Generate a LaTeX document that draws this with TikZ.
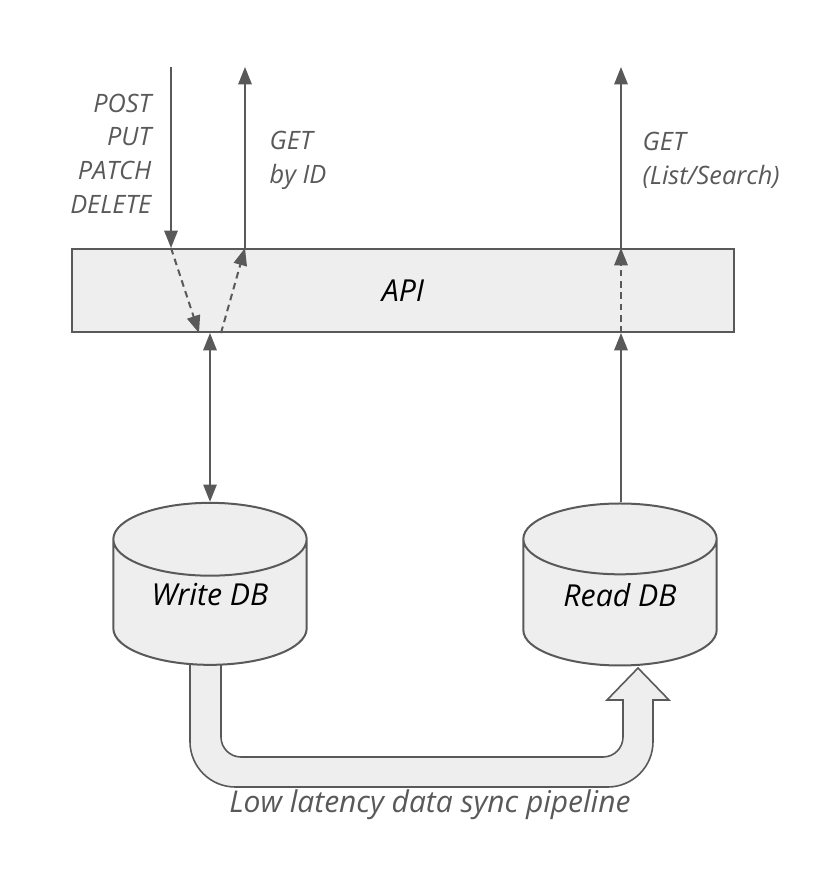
\documentclass[tikz,border=0pt]{standalone}
\usepackage{fontspec}
\setmainfont{Open Sans}
\usetikzlibrary{arrows.meta, positioning, shapes.geometric, calc}

\definecolor{linegray}{HTML}{595959}
\definecolor{boxfill}{HTML}{EEEEEE}

\begin{document}
\begin{tikzpicture}[
  x=0.75pt, y=-0.75pt,
  box/.style={draw=linegray, line width=1.5pt, fill=boxfill, minimum width=496.5pt,
              minimum height=62.25pt, font=\fontsize{22.7}{26}\selectfont\itshape},
  db/.style={cylinder, shape border rotate=90, aspect=0.58, draw=linegray,
             line width=1.5pt, fill=boxfill, minimum width=145pt, minimum height=121.5pt,
             text depth=20pt, font=\fontsize{22.7}{26}\selectfont\itshape},
  lbl/.style={text=linegray, font=\fontsize{19}{25.3}\selectfont\itshape},
  arr/.style={-{Triangle[length=13pt, width=10pt]}, draw=linegray, line width=1.5pt},
  dasharr/.style={arr, dash pattern=on 5pt off 3.5pt},
  pipe/.style={draw=linegray, line width=1.2pt, fill=boxfill}
]
  \useasboundingbox (0,0) rectangle (822,874);

  % sync pipeline, drawn under the databases
  \draw[pipe] (190,640) [rounded corners=34pt] -- (190,787) -- (653,787)
    [sharp corners] -- (653,700) -- (669,700) -- (638,668) -- (607,700) -- (623,700)
    [rounded corners=15pt] -- (623,757) -- (221,757)
    [sharp corners] -- (221,640) -- cycle;
  \node[lbl, font=\fontsize{22.5}{26}\selectfont\itshape] (pipelbl) at (430,805)
    {Low latency data sync pipeline};

  \node[box] (api) at (403,290.5) {API};
  \node[db] (wdb) at (210,608) {Write DB};
  \node[db] (rdb) at (620,608) {Read DB};

  \coordinate (postin) at (171,67);
  \coordinate (getid)  at (245,67);
  \coordinate (getls)  at (621,67);

  \node[lbl, align=right, anchor=east] (postlbl) at (156,153.5)
    {POST\\PUT\\PATCH\\DELETE};
  \node[lbl, align=left, anchor=west] (getidlbl) at (265,160.5) {GET\\by ID};
  \node[lbl, align=left, anchor=west] (getlslbl) at (638,160.5) {GET\\(List/Search)};

  % write side
  \draw[arr] (postin) -- (postin |- api.north);
  \draw[dasharr] (postin |- api.north) -- ($(wdb.north |- api.south)+(-11,0)$);
  \draw[dasharr] ($(wdb.north |- api.south)+(11,0)$) -- (getid |- api.north);
  \draw[arr] (getid |- api.north) -- (getid);
  \draw[arr, {Triangle[length=13pt, width=10pt]}-{Triangle[length=13pt, width=10pt]}]
    (wdb.north |- api.south) -- (wdb.north);

  % read side
  \draw[arr] (getls |- rdb.north) -- (getls |- api.south);
  \draw[dasharr] (getls |- api.south) -- (getls |- api.north);
  \draw[arr] (getls |- api.north) -- (getls);
\end{tikzpicture}
\end{document}
